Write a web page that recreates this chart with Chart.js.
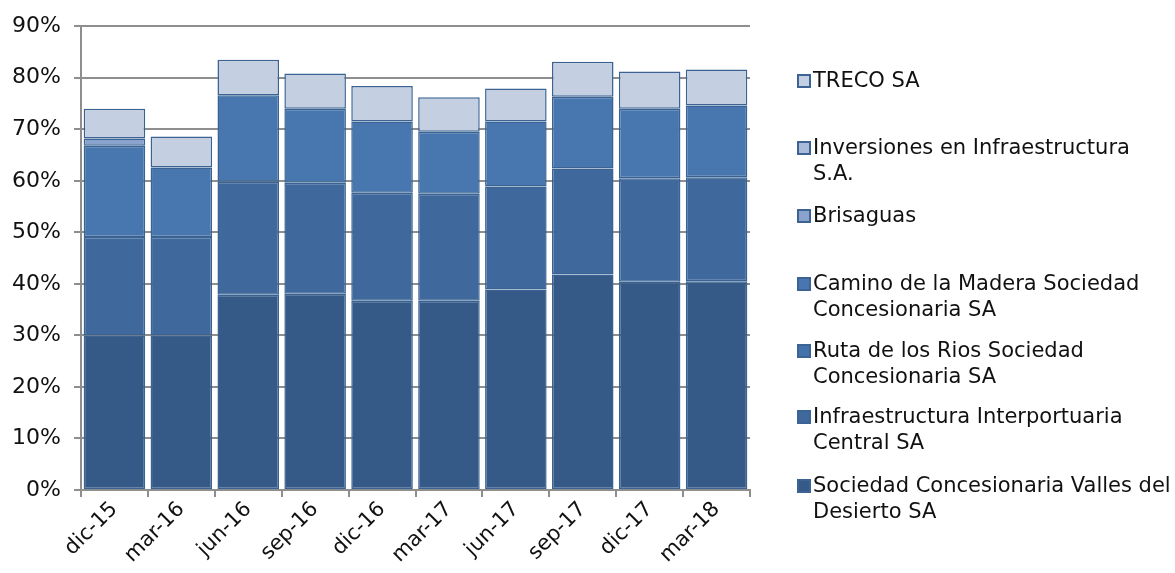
<!DOCTYPE html>
<html lang="es">
<head>
  <meta charset="UTF-8">
  <title>Participación</title>
  <style>
    body { margin: 0; background: #fff; }
    .wrap { position: relative; width: 1175px; height: 573px; overflow: hidden; }
    #myChart { position: absolute; left: 0; top: 0; }
    .legend-item {
      position: absolute; left: 797px;
      font-family: "DejaVu Sans", Verdana, sans-serif; font-size: 21px; line-height: 26px;
      color: #111; white-space: nowrap;
    }
    .legend-box {
      position: absolute; left: 0; top: 7px; width: 10px; height: 10px;
      border: 2px solid #3b6494;
    }
    .legend-text { position: absolute; left: 16px; top: 0; }
  </style>
</head>
<body>
<div class="wrap">
  <canvas id="myChart" width="1175" height="573"></canvas>
  <div id="legend"></div>
</div>
<script src="https://cdn.jsdelivr.net/npm/chart.js"></script>
<script>
  // periodos
  const periodos = ['dic-15', 'mar-16', 'jun-16', 'sep-16', 'dic-16', 'mar-17', 'jun-17', 'sep-17', 'dic-17', 'mar-18'];

  // participación (%) por sociedad, de abajo hacia arriba
  const valles        = [30.0, 30.0, 37.9, 38.1, 36.7, 36.7, 38.9, 41.8, 40.4, 40.5];
  const interportuaria = [19.1, 19.1, 21.9, 21.5, 21.0, 20.8, 20.0, 20.6, 20.1, 20.2];
  const rutaRios      = [0, 0, 0, 0, 0, 0, 0, 0, 0, 0];
  const caminoMadera  = [17.7, 13.5, 16.8, 14.4, 13.8, 12.0, 12.6, 13.9, 13.5, 13.9];
  const brisaguas     = [1.4, 0, 0, 0, 0, 0, 0, 0, 0, 0];
  const inversiones   = [0, 0, 0, 0, 0, 0, 0, 0, 0, 0];
  const treco         = [5.8, 6.0, 6.9, 6.8, 6.9, 6.7, 6.4, 6.8, 7.2, 7.0];

  const yTicks = [0, 10, 20, 30, 40, 50, 60, 70, 80, 90];

  const series = [
    { label: ['Sociedad Concesionaria Valles del', 'Desierto SA'], data: valles, color: '#355a87' },
    { label: ['Infraestructura Interportuaria', 'Central SA'], data: interportuaria, color: '#3f699c' },
    { label: ['Ruta de los Rios Sociedad', 'Concesionaria SA'], data: rutaRios, color: '#4472aa' },
    { label: ['Camino de la Madera Sociedad', 'Concesionaria SA'], data: caminoMadera, color: '#4777ae' },
    { label: ['Brisaguas'], data: brisaguas, color: '#8aa3cc' },
    { label: ['Inversiones en Infraestructura', 'S.A.'], data: inversiones, color: '#aabbd9' },
    { label: ['TRECO SA'], data: treco, color: '#c5cfe2' }
  ];

  // leyenda (de arriba hacia abajo: TRECO primero)
  const legendTops = [472, 403, 337, 270, 202, 134, 67];
  const legend = document.getElementById('legend');
  series.forEach(function (s, i) {
    let item = document.createElement('div');
    item.className = 'legend-item';
    item.style.top = legendTops[i] + 'px';
    item.innerHTML = "<span class='legend-box' style='background:" + s.color + "'></span>" +
      "<span class='legend-text'>" + s.label.join('<br>') + "</span>";
    legend.appendChild(item);
  });

  const fontSpec = { family: '"DejaVu Sans", Verdana, sans-serif', size: 21 };
  const gridColor = '#8e8e8e';

  const ctx = document.getElementById('myChart');
  const myChart = new Chart(ctx, {
    type: 'bar',
    data: {
      labels: periodos,
      datasets: series.map(function (s) {
        return {
          label: s.label.join(' '),
          data: s.data,
          backgroundColor: s.color,
          borderColor: '#3a6393',
          borderWidth: function (c) { return c.raw ? 1.5 : 0; },
          borderSkipped: false,
          barPercentage: 0.92,
          categoryPercentage: 1.0
        };
      })
    },
    options: {
      responsive: false,
      maintainAspectRatio: false,
      animation: { duration: 0 },
      layout: { padding: { top: 21, right: 425, left: 0, bottom: 0 } },
      plugins: {
        legend: { display: false },
        tooltip: { enabled: false }
      },
      scales: {
        x: {
          stacked: true,
          grid: {
            drawOnChartArea: false,
            drawTicks: true,
            tickLength: 7,
            color: gridColor,
            lineWidth: 2,
            offset: true
          },
          border: { color: gridColor, width: 2 },
          ticks: {
            font: fontSpec,
            color: '#111',
            maxRotation: 45,
            minRotation: 45,
            padding: 0
          },
          afterFit: function (scale) { scale.height = 83; }
        },
        y: {
          stacked: true,
          min: 0,
          max: 90,
          afterBuildTicks: function (scale) {
            scale.ticks = yTicks.map(function (v) { return { value: v }; });
          },
          grid: {
            color: gridColor,
            lineWidth: 2,
            tickLength: 7
          },
          border: { color: gridColor, width: 2 },
          ticks: {
            font: { family: fontSpec.family, size: 22 },
            color: '#111',
            padding: 13,
            callback: function (v) { return v + '%'; }
          },
          afterFit: function (scale) { scale.width = 81; }
        }
      }
    }
  });
</script>
</body>
</html>
